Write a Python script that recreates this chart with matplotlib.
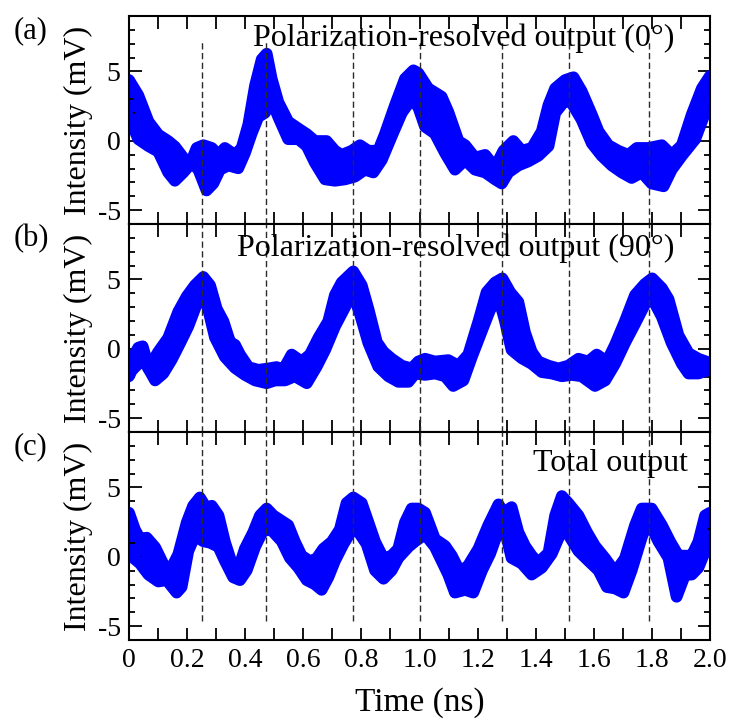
import numpy as np
import matplotlib
matplotlib.use("Agg")
import matplotlib.pyplot as plt
from matplotlib.ticker import MultipleLocator

plt.rcParams['font.family'] = ['Liberation Serif', 'DejaVu Serif']
plt.rcParams['mathtext.fontset'] = 'stix'

# band edges of the overlaid traces, (time in ns, intensity in mV)
a_upper = [(0, 4.8), (0.032, 3.7), (0.067, 1.8), (0.101, 0.86), (0.135, 0.4), (0.158, 0.0),
           (0.187, -0.8), (0.210, -1.3), (0.233, -0.1), (0.256, 0.1), (0.285, -0.1), (0.308, -0.6),
           (0.330, -0.1), (0.365, -0.6), (0.388, -0.1), (0.411, 1.6), (0.434, 4.4), (0.457, 6.3),
           (0.474, 6.7), (0.491, 4.9), (0.514, 3.2), (0.548, 1.8), (0.583, 1.3), (0.612, 0.9),
           (0.640, 0.4), (0.680, 0.4), (0.709, -0.3), (0.732, -0.6), (0.767, -0.3), (0.795, 0.1),
           (0.824, -0.3), (0.858, -0.3), (0.881, 0.9), (0.916, 3.0), (0.950, 4.9), (0.979, 5.5),
           (0.996, 5.3), (1.030, 4.2), (1.076, 3.6), (1.099, 2.5), (1.134, 0.4), (1.157, 0.1),
           (1.191, -0.8), (1.226, -0.6), (1.260, -1.5), (1.289, -0.3), (1.323, 0.4), (1.352, -0.3),
           (1.387, -0.1), (1.421, 1.1), (1.444, 3.0), (1.467, 4.2), (1.501, 4.8), (1.530, 5.0),
           (1.558, 4.0), (1.593, 2.3), (1.616, 1.1), (1.650, 0.1), (1.684, -0.3), (1.719, -0.6),
           (1.748, -0.1), (1.788, -0.1), (1.834, 0.1), (1.868, -0.6), (1.903, 0.1), (1.937, 2.3),
           (1.972, 4.2), (2.0, 5.1)]
a_lower = [(0, 1.3), (0.032, -0.3), (0.067, -0.8), (0.101, -1.2), (0.135, -2.7), (0.158, -3.3),
           (0.187, -2.7), (0.216, -2.0), (0.239, -2.5), (0.267, -4.0), (0.290, -3.5), (0.313, -2.5),
           (0.342, -2.2), (0.376, -2.4), (0.399, -1.3), (0.422, 0.1), (0.445, 1.3), (0.468, 1.6),
           (0.491, 2.5), (0.514, 1.3), (0.548, -0.3), (0.583, -0.3), (0.612, -0.8), (0.640, -2.0),
           (0.675, -3.2), (0.709, -3.3), (0.744, -3.2), (0.778, -3.0), (0.812, -2.5), (0.841, -2.7),
           (0.870, -1.8), (0.904, -0.1), (0.939, 1.6), (0.973, 2.6), (0.996, 2.0), (1.019, 0.6),
           (1.053, 0.1), (1.088, -1.3), (1.122, -2.5), (1.157, -1.8), (1.191, -2.5), (1.226, -2.7),
           (1.260, -3.2), (1.283, -3.5), (1.306, -2.7), (1.340, -2.2), (1.375, -1.9), (1.409, -1.5),
           (1.444, -0.8), (1.467, 1.6), (1.501, 2.5), (1.524, 2.3), (1.558, 1.1), (1.593, -0.6),
           (1.627, -1.5), (1.662, -2.2), (1.696, -2.7), (1.730, -3.1), (1.765, -2.7), (1.799, -3.5),
           (1.840, -3.7), (1.868, -2.5), (1.903, -1.5), (1.949, -0.3), (1.983, 1.6), (2.0, 2.5)]

b_upper = [(0, -0.7), (0.032, 0.5), (0.047, 0.6), (0.055, 0.0), (0.067, -1.0), (0.101, 0.2),
           (0.135, 1.2), (0.170, 3.1), (0.199, 4.2), (0.227, 5.0), (0.256, 5.6), (0.279, 5.0),
           (0.302, 3.3), (0.325, 2.4), (0.348, 0.9), (0.365, 0.7), (0.382, 0.0), (0.411, -0.9),
           (0.445, -1.1), (0.480, -1.0), (0.508, -0.9), (0.531, -1.1), (0.560, 0.0), (0.594, -0.5),
           (0.623, 0.0), (0.652, 1.2), (0.686, 2.4), (0.709, 4.3), (0.732, 5.2), (0.772, 6.0),
           (0.801, 5.0), (0.824, 3.3), (0.853, 0.9), (0.876, 0.2), (0.904, -0.3), (0.939, -0.8),
           (0.973, -1.0), (0.996, -0.5), (1.019, -0.3), (1.053, -0.5), (1.099, -0.4), (1.134, -0.8),
           (1.168, 0.0), (1.203, 2.4), (1.231, 4.5), (1.260, 5.2), (1.285, 5.5), (1.312, 4.5),
           (1.340, 3.8), (1.363, 1.6), (1.386, 0.2), (1.409, -0.5), (1.444, -0.8), (1.478, -1.0),
           (1.512, -0.8), (1.547, -0.3), (1.581, -0.5), (1.610, 0.0), (1.645, -0.5), (1.673, 0.7),
           (1.707, 2.4), (1.742, 4.3), (1.776, 5.1), (1.801, 5.5), (1.834, 4.8), (1.857, 4.0),
           (1.891, 1.4), (1.926, 0.1), (1.960, -0.3), (2.0, -0.6)]
b_lower = [(0, -2.4), (0.009, -2.0), (0.032, -1.5), (0.055, -1.4), (0.090, -2.7), (0.118, -2.2),
           (0.147, -1.2), (0.176, 0.0), (0.204, 1.2), (0.233, 2.8), (0.250, 3.8), (0.273, 2.4),
           (0.296, 0.4), (0.330, -1.0), (0.365, -1.8), (0.399, -2.3), (0.434, -2.7), (0.474, -2.9),
           (0.503, -2.7), (0.537, -2.7), (0.571, -2.4), (0.612, -2.9), (0.646, -1.7), (0.675, -0.5),
           (0.709, 1.2), (0.744, 2.6), (0.767, 3.8), (0.795, 2.1), (0.824, 0.0), (0.858, -1.7),
           (0.893, -2.4), (0.927, -2.8), (0.962, -2.8), (0.985, -2.2), (1.019, -2.3), (1.053, -2.2),
           (1.088, -2.4), (1.116, -3.1), (1.151, -2.7), (1.180, -1.0), (1.215, 0.9), (1.243, 2.4),
           (1.272, 3.3), (1.294, 1.6), (1.317, -0.5), (1.352, -1.1), (1.386, -1.5), (1.421, -2.1),
           (1.455, -2.2), (1.490, -2.4), (1.524, -2.3), (1.558, -2.4), (1.604, -3.1), (1.639, -2.7),
           (1.673, -1.5), (1.707, 0.0), (1.742, 1.4), (1.776, 2.8), (1.799, 3.3), (1.834, 1.9),
           (1.868, 0.0), (1.903, -1.5), (1.926, -2.2), (1.960, -2.2), (2.0, -1.9)]

c_upper = [(0, 3.6), (0.02, 2.4), (0.038, 1.7), (0.061, 1.8), (0.090, 1.1), (0.118, -0.1),
           (0.141, -0.6), (0.170, 0.6), (0.199, 2.9), (0.221, 4.1), (0.244, 4.7), (0.267, 3.9),
           (0.285, 4.1), (0.308, 3.4), (0.330, 1.5), (0.353, 0.0), (0.376, -0.5), (0.399, 1.0),
           (0.428, 2.2), (0.451, 3.4), (0.474, 3.9), (0.497, 3.4), (0.526, 3.0), (0.548, 2.7),
           (0.571, 1.5), (0.594, 0.5), (0.623, 0.1), (0.646, 0.3), (0.669, 1.0), (0.698, 1.5),
           (0.726, 2.4), (0.749, 4.3), (0.772, 4.7), (0.801, 4.3), (0.824, 2.9), (0.847, 1.5),
           (0.876, 0.3), (0.904, 0.5), (0.927, 1.0), (0.950, 2.9), (0.973, 3.9), (0.996, 3.9),
           (1.019, 3.6), (1.053, 1.7), (1.088, 1.2), (1.111, 0.5), (1.140, -0.7), (1.168, -0.2),
           (1.203, 1.0), (1.237, 2.7), (1.272, 4.2), (1.289, 3.6), (1.317, 4.0), (1.340, 2.2),
           (1.363, 1.2), (1.386, 0.5), (1.409, 0.0), (1.444, 0.7), (1.467, 3.4), (1.490, 4.8),
           (1.512, 4.3), (1.547, 3.4), (1.576, 2.2), (1.604, 1.2), (1.639, 0.3), (1.673, -0.7),
           (1.707, 0.3), (1.742, 2.7), (1.765, 3.9), (1.799, 3.9), (1.834, 2.7), (1.863, 1.5),
           (1.891, 0.5), (1.914, 0.5), (1.937, 0.5), (1.960, 1.5), (1.983, 3.4), (2.0, 3.6)]
c_lower = [(0, 0.1), (0.015, -0.5), (0.038, -0.9), (0.067, -1.7), (0.101, -2.2), (0.130, -2.1),
           (0.164, -3.0), (0.181, -2.6), (0.204, 0.0), (0.227, 1.1), (0.256, 0.7), (0.279, 0.6),
           (0.308, 0.3), (0.330, -0.7), (0.359, -1.9), (0.382, -2.1), (0.405, -1.4), (0.434, 0.3),
           (0.462, 1.5), (0.491, 1.5), (0.526, 0.7), (0.554, -0.5), (0.583, -1.2), (0.612, -2.1),
           (0.640, -2.4), (0.663, -2.8), (0.686, -1.9), (0.709, -0.7), (0.738, 0.5), (0.767, 1.5),
           (0.789, 1.4), (0.818, 0.5), (0.847, -1.4), (0.876, -2.0), (0.904, -1.4), (0.927, -0.5),
           (0.962, 0.3), (0.985, 0.7), (1.019, 1.2), (1.053, 0.3), (1.076, -0.7), (1.099, -1.7),
           (1.122, -3.0), (1.157, -2.8), (1.185, -3.0), (1.215, -1.4), (1.243, -0.2), (1.272, 1.5),
           (1.294, 1.5), (1.317, -0.5), (1.352, -0.9), (1.386, -1.7), (1.421, -1.2), (1.455, -0.2),
           (1.490, 1.5), (1.512, 1.2), (1.547, 0.0), (1.581, -0.7), (1.616, -1.4), (1.645, -2.6),
           (1.673, -2.7), (1.702, -3.0), (1.730, -1.4), (1.765, 1.0), (1.788, 2.2), (1.822, 0.7),
           (1.857, -0.5), (1.885, -3.3), (1.914, -1.7), (1.937, -1.7), (1.960, -1.2), (1.983, 0.0),
           (2.0, 0.5)]

marker_times = [0.25, 0.47, 0.77, 1.0, 1.285, 1.515, 1.79]
panel_titles = ['Polarization-resolved output (0\u00b0)',
                'Polarization-resolved output (90\u00b0)',
                'Total output']
panel_tags = ['(a)', '(b)', '(c)']
x_ticks = [0, 0.2, 0.4, 0.6, 0.8, 1.0, 1.2, 1.4, 1.6, 1.8, 2.0]
x_ticklabels = ['0', '0.2', '0.4', '0.6', '0.8', '1.0', '1.2', '1.4', '1.6', '1.8', '2.0']
y_ticks = [-5, 0, 5]
y_ticklabels = ['-5', '0', '5']

BLUE = '#0000ff'
LW = 8.5       # stroke width of the traces, pt
HALF = 0.42    # half the stroke width in mV, so the band edge sits on the data

fig = plt.figure(figsize=(7.32, 7.22), dpi=100)
left, right = 0.1762, 0.970
bottoms = [0.6898, 0.4017, 0.1136]
height = 0.288

bands = [(a_upper, a_lower), (b_upper, b_lower), (c_upper, c_lower)]
dash_span = [(0.0, 0.887), (0.0, 1.0), (0.093, 1.0)]
title_pos = [(0.938, 0.894), (0.938, 0.885), (0.962, 0.851)]

for i, (up, lo) in enumerate(bands):
    ax = fig.add_axes([left, bottoms[i], right - left, height])
    tu, vu = np.array(up).T
    tl, vl = np.array(lo).T
    # the two traces plus the space between them
    grid = np.union1d(tu, tl)
    yu = np.interp(grid, tu, vu - HALF)
    yl = np.interp(grid, tl, vl + HALF)
    ax.fill_between(grid, yl, yu, color=BLUE, lw=0, zorder=1)
    ax.plot(tu, vu - HALF, color=BLUE, lw=LW, solid_capstyle='round',
            solid_joinstyle='round', zorder=2)
    ax.plot(tl, vl + HALF, color=BLUE, lw=LW, solid_capstyle='round',
            solid_joinstyle='round', zorder=2)

    for t in marker_times:
        ax.axvline(t, ymin=dash_span[i][0], ymax=dash_span[i][1], color='#2a2a2a',
                   lw=1.0, dashes=(4.5, 2.5), zorder=3)

    ax.set_xlim(0, 2.0)
    ax.set_ylim(-6, 9)
    ax.set_xticks(x_ticks)
    ax.xaxis.set_minor_locator(MultipleLocator(0.1))
    ax.set_yticks(y_ticks)
    ax.set_yticklabels(y_ticklabels)
    ax.yaxis.set_minor_locator(MultipleLocator(1))
    if i == 2:
        ax.set_xticklabels(x_ticklabels)
        ax.set_xlabel('Time (ns)', fontsize=24, labelpad=10)
    else:
        ax.set_xticklabels([])
    ax.tick_params(which='both', direction='in', top=True, right=True,
                   labelsize=20, width=1.3, pad=6)
    ax.tick_params(which='major', length=9)
    ax.tick_params(axis='y', which='minor', length=4.5)
    ax.tick_params(axis='x', which='minor', length=9)
    for s in ax.spines.values():
        s.set_linewidth(1.5)
    ax.set_ylabel('Intensity (mV)', fontsize=23, labelpad=3)

    tx, ty = title_pos[i]
    ax.text(tx, ty, panel_titles[i], transform=ax.transAxes, ha='right',
            va='center', fontsize=23, zorder=4)
    fig.text(0.018, bottoms[i] + height - 0.02, panel_tags[i], fontsize=22,
             ha='left', va='center')

fig.savefig('out.png', dpi=100)
